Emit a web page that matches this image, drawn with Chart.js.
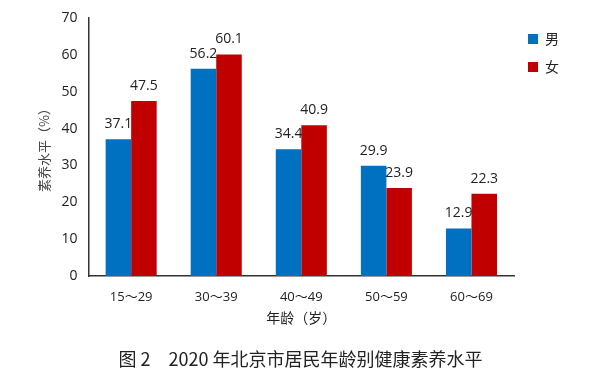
<!DOCTYPE html>
<html>
<head>
<meta charset="utf-8">
<script src="https://cdn.jsdelivr.net/npm/chart.js@4"></script>
<style>
  html, body { margin: 0; padding: 0; background: #fff; }
  #wrap { width: 600px; height: 378px; }
</style>
</head>
<body>
<div id="wrap"><canvas id="chart" width="600" height="378"></canvas></div>
<script>
const ageGroups = ['15～29', '30～39', '40～49', '50～59', '60～69'];
const maleValues = [37.1, 56.2, 34.4, 29.9, 12.9];
const femaleValues = [47.5, 60.1, 40.9, 23.9, 22.3];
const seriesNames = ['男', '女'];
const yTicks = [0, 10, 20, 30, 40, 50, 60, 70];

const FONT = '"Open Sans", "Noto Sans CJK SC", sans-serif';
const CJK = '"Noto Sans CJK SC", sans-serif';

// 막대 위 값 표시
const valueLabels = {
  id: 'valueLabels',
  afterDatasetsDraw(chart) {
    const ctx = chart.ctx;
    ctx.save();
    ctx.font = '14px ' + FONT;
    ctx.fillStyle = '#222';
    ctx.textAlign = 'center';
    ctx.textBaseline = 'bottom';
    chart.data.datasets.forEach((ds, i) => {
      chart.getDatasetMeta(i).data.forEach((bar, j) => {
        ctx.fillText(ds.data[j].toFixed(1), bar.x, bar.y - 8);
      });
    });
    ctx.restore();
  }
};

new Chart(document.getElementById('chart'), {
  type: 'bar',
  data: {
    labels: ageGroups,
    datasets: [
      { label: seriesNames[0], data: maleValues, backgroundColor: '#0070C0' },
      { label: seriesNames[1], data: femaleValues, backgroundColor: '#C00000' }
    ]
  },
  options: {
    responsive: false,
    animation: false,
    layout: { padding: { left: 32, right: 31, top: 18, bottom: 8 } },
    datasets: { bar: { categoryPercentage: 0.6, barPercentage: 1.0 } },
    scales: {
      x: {
        grid: { display: false, drawTicks: true, tickLength: 5, color: '#333' },
        border: { color: '#333', width: 1.5 },
        ticks: { color: '#222', font: { family: FONT, size: 13 }, padding: 8 },
        title: { display: true, text: '年龄（岁）', color: '#222', font: { family: CJK, size: 14 }, padding: { top: -3, bottom: 4 } }
      },
      y: {
        min: 0, max: 70,
        afterBuildTicks(scale) { scale.ticks = yTicks.map(v => ({ value: v })); },
        grid: { display: false, drawTicks: true, tickLength: 5 },
        border: { color: '#333', width: 1.5 },
        ticks: { color: '#222', font: { family: FONT, size: 14 }, padding: 6 },
        title: { display: true, text: '素养水平（%）', color: '#444', font: { family: CJK, size: 13 }, padding: { top: 4, bottom: 4 } }
      }
    },
    plugins: {
      legend: {
        position: 'right',
        align: 'start',
        labels: {
          boxWidth: 10, boxHeight: 10, padding: 14,
          color: '#222', font: { family: CJK, size: 14 }
        }
      },
      title: {
        display: true,
        position: 'bottom',
        text: '图 2　2020 年北京市居民年龄别健康素养水平',
        color: '#222',
        font: { family: CJK, size: 18, weight: 'normal' },
        padding: { top: 18, bottom: 0 }
      },
      tooltip: { enabled: false }
    }
  },
  plugins: [valueLabels]
});
</script>
</body>
</html>
